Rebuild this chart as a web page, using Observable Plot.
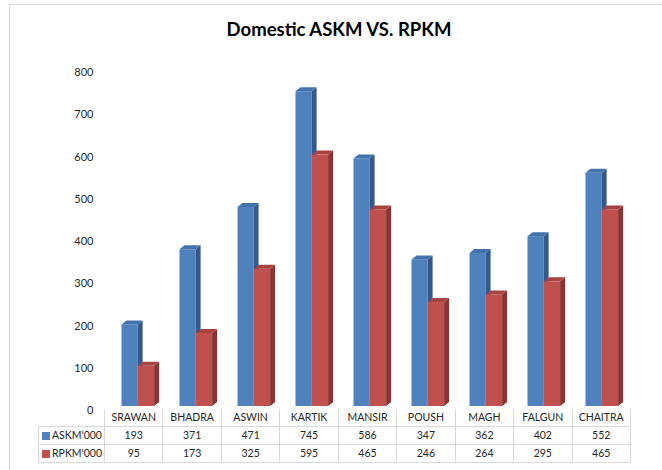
<!DOCTYPE html>
<html>
<head>
<meta charset="utf-8">
<script src="https://cdn.jsdelivr.net/npm/d3@7"></script>
<script src="https://cdn.jsdelivr.net/npm/@observablehq/plot@0.6"></script>
<style>
  html, body { margin: 0; padding: 0; background: #fff; }
  #wrap { position: relative; width: 662px; height: 470px; overflow: hidden; font-family: Lato, "Open Sans", sans-serif; }
  #frame { position: absolute; left: 9px; top: 4px; right: -2px; bottom: -2px; border-left: 1px solid #d9d9d9; border-top: 1px solid #d9d9d9; }
  #title { position: absolute; left: 15px; width: 648px; top: 18px; text-align: center; font: bold 18.5px Lato, sans-serif; color: #000; }
  #chart { position: absolute; left: 0; top: 0; }
  #tbl { position: absolute; left: 38px; top: 409px; border-collapse: collapse; table-layout: fixed; width: 592px; font: 10.5px Lato, sans-serif; color: #262626; }
  #tbl td { border: 1px solid #d9d9d9; text-align: center; padding: 0; height: 17px; line-height: 17px; white-space: nowrap; overflow: hidden; }
  #tbl tr.head td { border-top: none; }
  #tbl td.corner { border: none; }
  #tbl td.leg { text-align: left; padding-left: 3px; }
  .sw { display: inline-block; width: 8px; height: 8px; margin-right: 2px; vertical-align: -0.5px; }
</style>
</head>
<body>
<div id="wrap">
  <div id="frame"></div>
  <div id="title">Domestic ASKM VS. RPKM</div>
  <div id="chart"></div>
  <table id="tbl"></table>
</div>
<script>
const categories = ["SRAWAN", "BHADRA", "ASWIN", "KARTIK", "MANSIR", "POUSH", "MAGH", "FALGUN", "CHAITRA"];
const askm = [193, 371, 471, 745, 586, 347, 362, 402, 552];
const rpkm = [95, 173, 325, 595, 465, 246, 264, 295, 465];
const seriesNames = ["ASKM'000", "RPKM'000"];
const yTicks = [0, 100, 200, 300, 400, 500, 600, 700, 800];

const colors = {
  "ASKM'000": {front: "#4F81BD", side: "#35598A", top: "#4372AC"},
  "RPKM'000": {front: "#C0504D", side: "#8A3533", top: "#A8433F"}
};

const rows = categories.map((c, i) => ({cat: c, askm: askm[i], rpkm: rpkm[i]}));

const DX = 5, DY = 4;

function bar3d(key, name, insetLeft, insetRight) {
  const col = colors[name];
  return Plot.barY(rows, {
    x: "cat", y: key, fill: col.front, insetLeft, insetRight,
    render(index, scales, values, dims, ctx, next) {
      const g = next(index, scales, values, dims, ctx);
      const bw = (scales.x && typeof scales.x.bandwidth === "function")
        ? scales.x.bandwidth()
        : (dims.width - dims.marginLeft - dims.marginRight) / categories.length;
      const sel = d3.select(g);
      for (const i of index) {
        const x0 = values.x[i] + insetLeft;
        const x1 = values.x[i] + bw - insetRight;
        const yt = Math.min(values.y1[i], values.y2[i]);
        const yb = Math.max(values.y1[i], values.y2[i]);
        sel.append("path")
          .attr("d", `M${x1},${yt}L${x1 + DX},${yt - DY}L${x1 + DX},${yb - DY}L${x1},${yb}Z`)
          .attr("fill", col.side);
        sel.append("path")
          .attr("d", `M${x0},${yt}L${x0 + DX},${yt - DY}L${x1 + DX},${yt - DY}L${x1},${yt}Z`)
          .attr("fill", col.top);
      }
      return g;
    }
  });
}

const plot = Plot.plot({
  width: 662,
  height: 410,
  marginLeft: 104,
  marginRight: 32,
  marginTop: 68,
  marginBottom: 4,
  style: {overflow: "visible", background: "transparent", fontFamily: "Lato, sans-serif", fontSize: "11px", color: "#262626"},
  x: {domain: categories, padding: 0, axis: null},
  y: {domain: [0, 800], axis: null},
  marks: [
    Plot.axisY({ticks: yTicks, tickSize: 0, tickPadding: 11, dy: 4, label: null, fontSize: 11, fill: "#262626"}),
    bar3d("askm", "ASKM'000", 15.5, 26.4),
    bar3d("rpkm", "RPKM'000", 32, 9.9)
  ]
});
document.getElementById("chart").appendChild(plot);

// data table below the chart
const tbl = d3.select("#tbl");
const cg = tbl.append("colgroup");
cg.append("col").style("width", "66px");
categories.forEach(() => cg.append("col").style("width", "58.44px"));
const head = tbl.append("tr").attr("class", "head");
head.append("td").attr("class", "corner");
categories.forEach(c => head.append("td").text(c));
[[seriesNames[0], askm], [seriesNames[1], rpkm]].forEach(([name, vals]) => {
  const tr = tbl.append("tr");
  const td = tr.append("td").attr("class", "leg");
  td.append("span").attr("class", "sw").style("background", colors[name].front);
  td.append("span").text(name);
  vals.forEach(v => tr.append("td").text(v));
});
</script>
</body>
</html>
